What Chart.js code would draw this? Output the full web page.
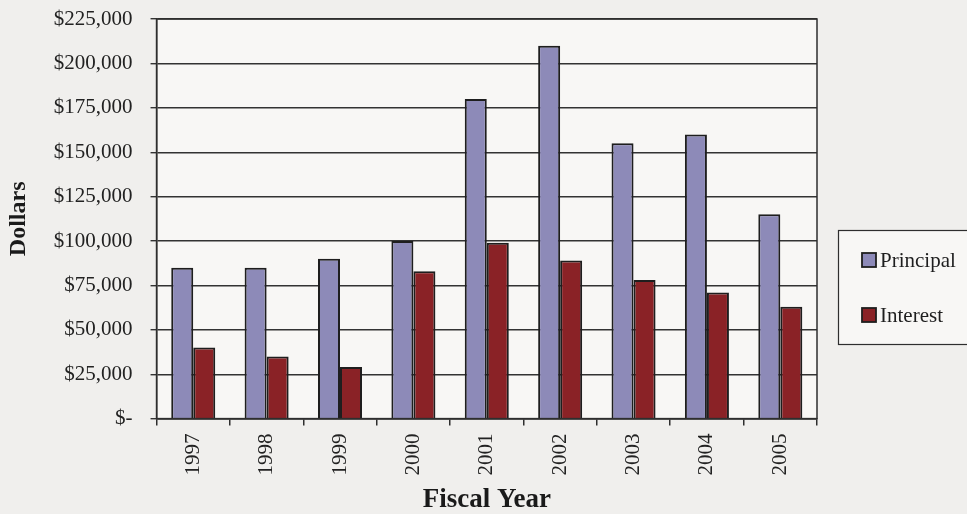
<!DOCTYPE html>
<html lang="en">
<head>
    <meta charset="UTF-8">
    <title>Principal and Interest by Fiscal Year</title>
    <script src="https://cdn.jsdelivr.net/npm/chart.js"></script>
    <style>
        body { margin: 0; background: #f0efed; }
        .chart-box { width: 967px; height: 514px; position: relative; }
    </style>
</head>
<body>
    <div class="chart-box">
        <canvas id="graficoPagamentos"></canvas>
    </div>

<script>
    // Dados
    const anos = ['1997', '1998', '1999', '2000', '2001', '2002', '2003', '2004', '2005'];
    const principal = [85000, 85000, 90000, 100000, 180000, 210000, 155000, 160000, 115000];
    const juros = [40000, 35000, 29000, 83000, 99000, 89000, 78000, 71000, 63000];
    const nomesSeries = ['Principal', 'Interest'];

    const fonte = 'Liberation Serif, Times New Roman, serif';

    // fundo claro só na área do gráfico + moldura
    const fundoArea = {
        id: 'fundoArea',
        beforeDraw(chart) {
            const { ctx, chartArea: a } = chart;
            ctx.save();
            ctx.fillStyle = '#f8f7f5';
            ctx.fillRect(a.left, a.top, a.right - a.left, a.bottom - a.top);
            ctx.restore();
        },
        afterDatasetsDraw(chart) {
            const { ctx, chartArea: a } = chart;
            ctx.save();
            ctx.strokeStyle = '#2e2e2e';
            ctx.lineWidth = 1.5;
            ctx.strokeRect(a.left, a.top, a.right - a.left, a.bottom - a.top);
            ctx.restore();
        }
    };

    // legenda com caixa, como no original
    const legendaCaixa = {
        id: 'legendaCaixa',
        afterDraw(chart) {
            const ctx = chart.ctx;
            const x = 838, y = 230, w = 140, h = 114;
            ctx.save();
            ctx.fillStyle = '#f8f7f5';
            ctx.fillRect(x, y, w, h);
            ctx.strokeStyle = '#2e2e2e';
            ctx.lineWidth = 1.2;
            ctx.strokeRect(x + 0.5, y + 0.5, w, h);
            ctx.font = '21px ' + fonte;
            ctx.textBaseline = 'middle';
            chart.data.datasets.forEach((ds, i) => {
                const cy = 260 + i * 55;
                ctx.fillStyle = ds.backgroundColor;
                ctx.fillRect(862, cy - 7, 14, 14);
                ctx.strokeStyle = '#1e1e1e';
                ctx.lineWidth = 1.8;
                ctx.strokeRect(862, cy - 7, 14, 14);
                ctx.fillStyle = '#1e1e1e';
                ctx.fillText(ds.label, 880, cy + 1);
            });
            ctx.restore();
        }
    };

    const dados = {
        labels: anos,
        datasets: [
            {
                label: nomesSeries[0],
                data: principal,
                backgroundColor: '#8d8ab8',
                borderColor: '#1e1e1e',
                borderWidth: 2
            },
            {
                label: nomesSeries[1],
                data: juros,
                backgroundColor: '#8a2226',
                borderColor: '#1e1e1e',
                borderWidth: 2
            }
        ]
    };

    const config = {
        type: 'bar',
        data: dados,
        options: {
            responsive: true,
            maintainAspectRatio: false,
            animation: false,
            layout: { padding: { top: 19, right: 150, left: 4, bottom: -2 } },
            datasets: {
                bar: { categoryPercentage: 0.6, barPercentage: 1.0 }
            },
            plugins: {
                legend: { display: false },
                tooltip: { enabled: false }
            },
            scales: {
                x: {
                    grid: {
                        drawOnChartArea: false,
                        drawTicks: true,
                        tickLength: 7,
                        color: '#2e2e2e',
                        lineWidth: 1.5
                    },
                    border: { color: '#2e2e2e', width: 1.5 },
                    ticks: {
                        minRotation: 90,
                        maxRotation: 90,
                        padding: 8,
                        color: '#222',
                        font: { family: fonte, size: 21 }
                    },
                    title: {
                        display: true,
                        text: 'Fiscal Year',
                        color: '#1a1a1a',
                        padding: { top: 0, bottom: 0 },
                        font: { family: fonte, size: 27, weight: 'bold' }
                    }
                },
                y: {
                    min: 0,
                    max: 225000,
                    // o padding dos rótulos não deve empurrar o topo da área
                    afterFit: escala => { escala.paddingTop = 0; },
                    grid: {
                        color: '#333',
                        lineWidth: 1.4,
                        tickLength: 6
                    },
                    border: { color: '#2e2e2e', width: 1.5 },
                    ticks: {
                        stepSize: 25000,
                        padding: 18,
                        color: '#222',
                        font: { family: fonte, size: 21 },
                        callback: v => v === 0 ? '$-' : '$' + v.toLocaleString('en-US')
                    },
                    title: {
                        display: true,
                        text: 'Dollars',
                        color: '#1a1a1a',
                        padding: { top: 0, bottom: 3 },
                        font: { family: fonte, size: 24, weight: 'bold' }
                    }
                }
            }
        },
        plugins: [fundoArea, legendaCaixa]
    };

    new Chart(document.getElementById('graficoPagamentos'), config);
</script>
</body>
</html>
